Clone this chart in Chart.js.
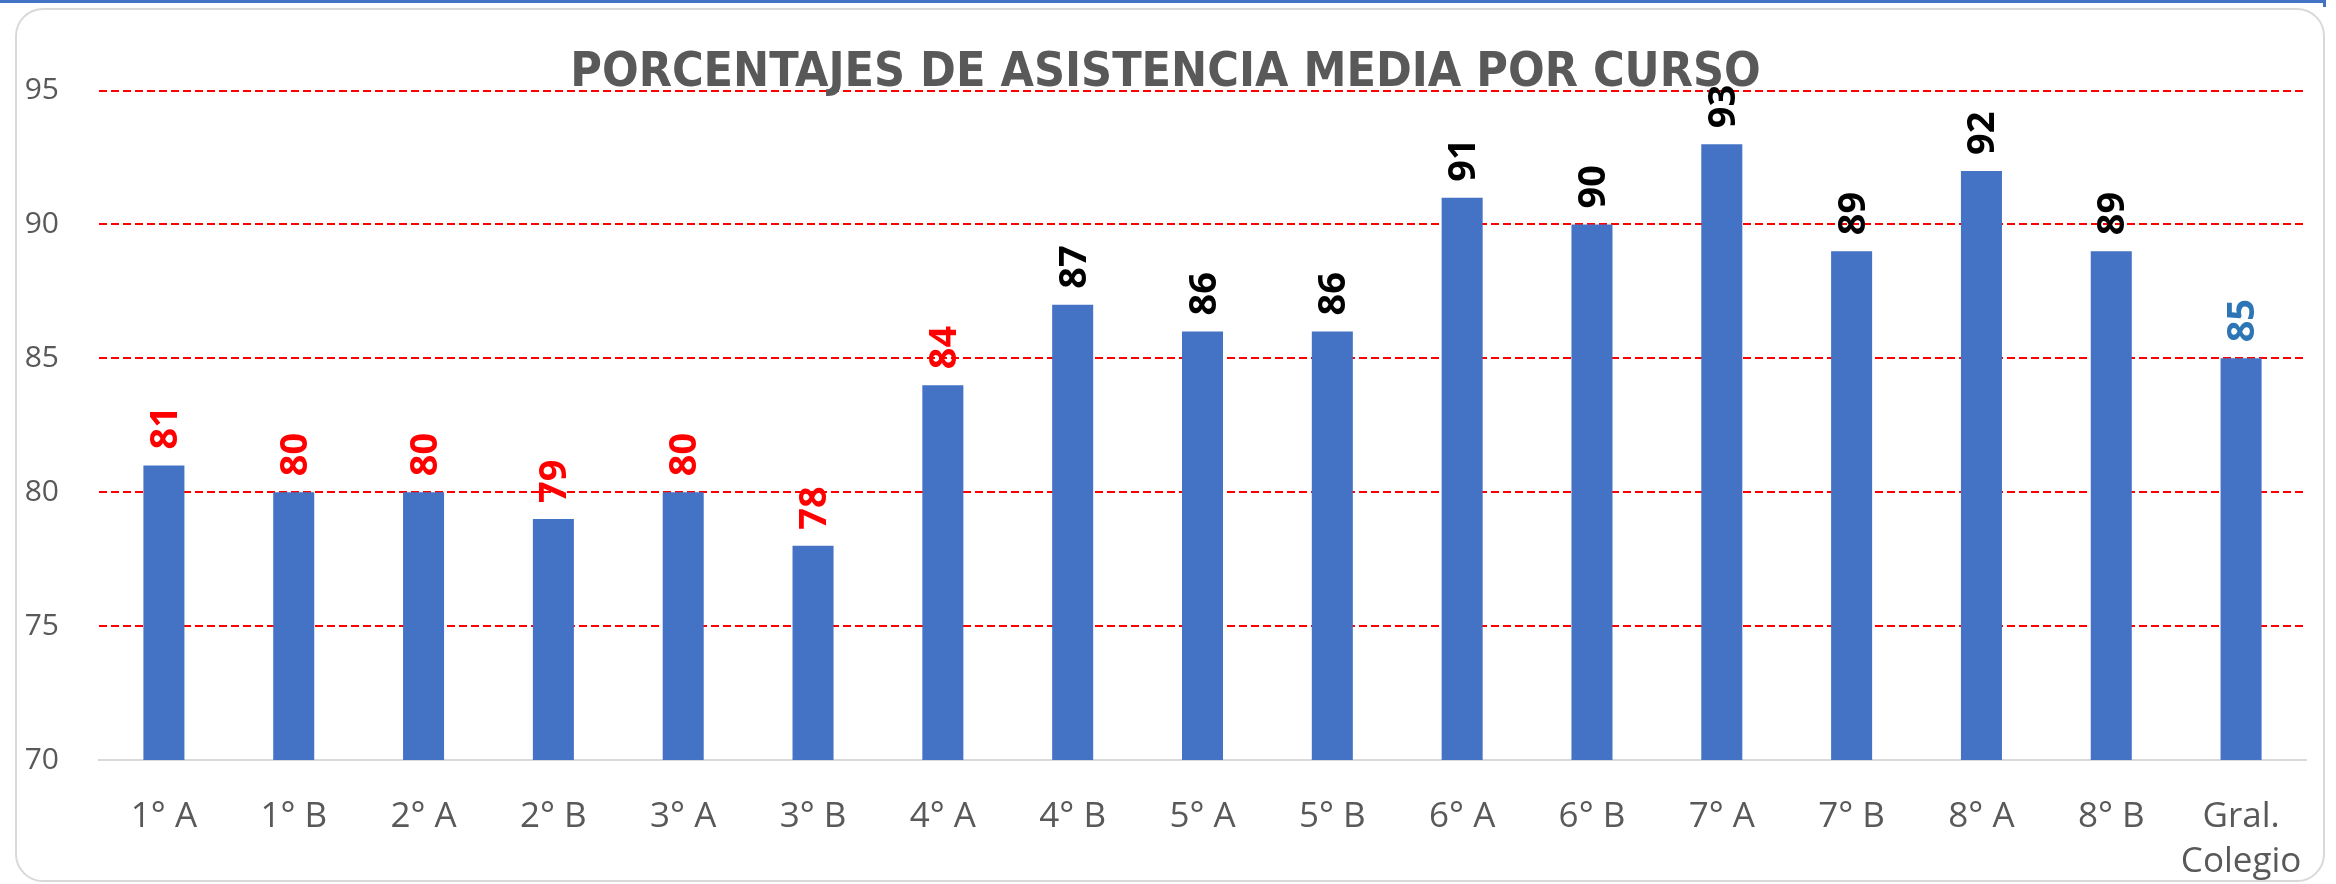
<!DOCTYPE html>
<html>
<head>
<meta charset="utf-8">
<script src="https://cdn.jsdelivr.net/npm/chart.js@4.4.1/dist/chart.umd.min.js"></script>
<style>
    html, body { margin: 0; padding: 0; background: #fff; }
    body { width: 2336px; height: 884px; position: relative; overflow: hidden; }
    #topline { position: absolute; left: 0; top: 0; width: 2326px; height: 7px; border-top: 3px solid #4472C4; border-right: 3px solid #4472C4; box-sizing: border-box; }
    #card { position: absolute; left: 15px; top: 8px; width: 2310px; height: 874px; border: 2px solid #d9d9d9; border-radius: 28px; box-sizing: border-box; }
    #wrap { position: absolute; left: 0; top: 0; width: 2336px; height: 884px; }
</style>
</head>
<body>
<div id="topline"></div>
<div id="card"></div>
<div id="wrap"><canvas id="chart-1"></canvas></div>
<script>
// Datos
const cursos = ['1° A', '1° B', '2° A', '2° B', '3° A', '3° B', '4° A', '4° B', '5° A', '5° B',
    '6° A', '6° B', '7° A', '7° B', '8° A', '8° B', ['Gral.', 'Colegio']];
const asistencia = [81, 80, 80, 79, 80, 78, 84, 87, 86, 86, 91, 90, 93, 89, 92, 89, 85];
const ticksY = [70, 75, 80, 85, 90, 95];

// Color de la etiqueta: rojo bajo 85, negro sobre 85, azul para el promedio del colegio
function labelColor(i) {
    if (i === asistencia.length - 1) return '#2E75B6';
    return asistencia[i] < 85 ? '#FF0000' : '#000000';
}

// Etiquetas verticales encima de cada barra
const valueLabels = {
    id: 'valueLabels',
    afterDatasetsDraw(chart) {
        const ctx = chart.ctx;
        const meta = chart.getDatasetMeta(0);
        ctx.save();
        ctx.font = 'bold 38px "Open Sans"';
        ctx.textAlign = 'left';
        ctx.textBaseline = 'alphabetic';
        meta.data.forEach((bar, i) => {
            ctx.save();
            ctx.translate(bar.x, bar.y - 16);
            ctx.rotate(-Math.PI / 2);
            ctx.fillStyle = labelColor(i);
            ctx.fillText(String(asistencia[i]), 0, 13);
            ctx.restore();
        });
        ctx.restore();
    }
};

document.addEventListener('DOMContentLoaded', function () {
    const ctx = document.getElementById('chart-1').getContext('2d');

    new Chart(ctx, {
        type: 'bar',
        data: {
            labels: cursos,
            datasets: [{
                label: 'Asistencia media',
                data: asistencia,
                backgroundColor: '#4472C4',
                barPercentage: 0.316,
                categoryPercentage: 1
            }]
        },
        options: {
            responsive: true,
            maintainAspectRatio: false,
            animation: false,
            layout: {
                padding: {left: 25, right: 30, top: 33, bottom: 0}
            },
            plugins: {
                legend: {display: false},
                tooltip: {enabled: false},
                title: {
                    display: true,
                    text: 'PORCENTAJES DE ASISTENCIA MEDIA POR CURSO',
                    color: '#595959',
                    font: {family: 'DejaVu Sans Condensed', weight: 'bold', size: 48, lineHeight: 1.2},
                    padding: {top: 12, bottom: -12}
                }
            },
            scales: {
                x: {
                    grid: {display: false},
                    border: {display: true, color: '#d9d9d9', width: 2},
                    afterFit: function (axis) {
                        axis.height = 124;
                    },
                    ticks: {
                        color: '#595959',
                        font: {family: 'Open Sans', size: 35, lineHeight: 1.3},
                        padding: 26,
                        maxRotation: 0,
                        autoSkip: false
                    }
                },
                y: {
                    min: ticksY[0],
                    max: ticksY[ticksY.length - 1],
                    afterBuildTicks: function (axis) {
                        axis.ticks = ticksY.map(v => ({value: v}));
                    },
                    afterFit: function (axis) {
                        axis.width = 74;
                    },
                    ticks: {
                        color: '#595959',
                        font: {family: 'Open Sans', size: 30},
                        padding: 40
                    },
                    grid: {
                        color: c => (c.tick && c.tick.value === ticksY[0]) ? 'rgba(0,0,0,0)' : '#FF0000',
                        lineWidth: 2,
                        drawTicks: false,
                        borderDash: [8, 4]
                    },
                    border: {display: false, dash: [8, 4]}
                }
            }
        },
        plugins: [valueLabels]
    });
});
</script>
</body>
</html>
